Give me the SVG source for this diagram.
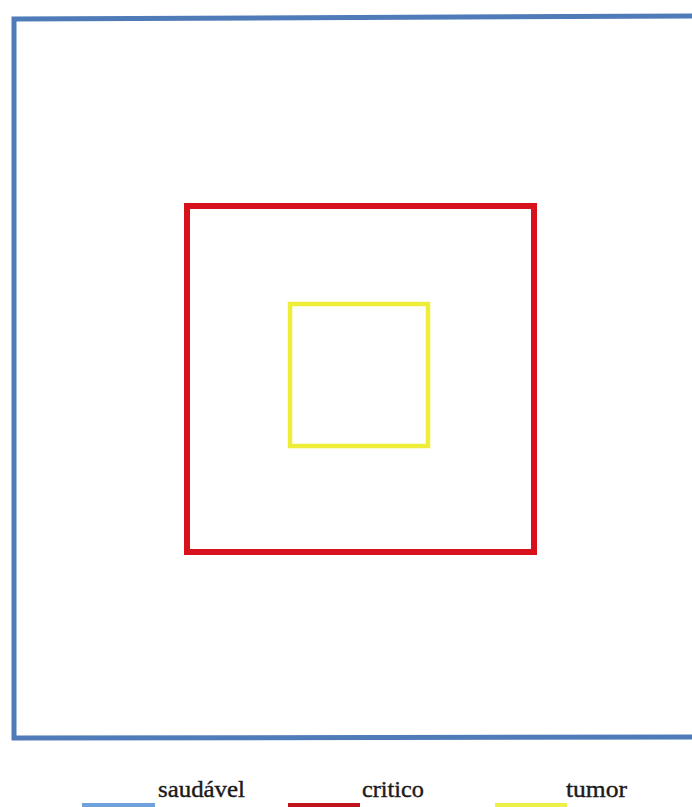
<svg xmlns="http://www.w3.org/2000/svg" width="692" height="807" viewBox="0 0 692 807">
<style>
.lbl{font-family:'Liberation Serif','DejaVu Serif','Times New Roman',serif;font-size:24px;fill:#1a1a1a;stroke:#1a1a1a;stroke-width:0.4;}
.blue{stroke:#4f7bb8;fill:none;stroke-width:5;}
.red{stroke:#d8121c;fill:none;stroke-width:6;}
.yel{stroke:#eeee3a;fill:none;stroke-width:4.5;}
</style>
<rect width="692" height="807" fill="#ffffff"/>
<g id="saudavel">
<polyline class="blue" points="694,16 14,19 14,738 694,737" stroke-linejoin="miter"/>
</g>
<g id="critico">
<rect class="red" x="187" y="206" width="347" height="346"/>
</g>
<g id="tumor">
<rect class="yel" x="290" y="304" width="138" height="142"/>
</g>
<g id="legend">
<text class="lbl" x="158" y="797" textLength="87" lengthAdjust="spacingAndGlyphs">saudável</text>
<text class="lbl" x="362" y="797" textLength="62" lengthAdjust="spacingAndGlyphs">critico</text>
<text class="lbl" x="566" y="797" textLength="61" lengthAdjust="spacingAndGlyphs">tumor</text>
<rect x="82" y="803" width="73" height="6" fill="#6fa2dc"/>
<rect x="288" y="803" width="72" height="6" fill="#c0141c"/>
<rect x="495" y="803" width="72" height="6" fill="#eef04a"/>
</g>
</svg>
